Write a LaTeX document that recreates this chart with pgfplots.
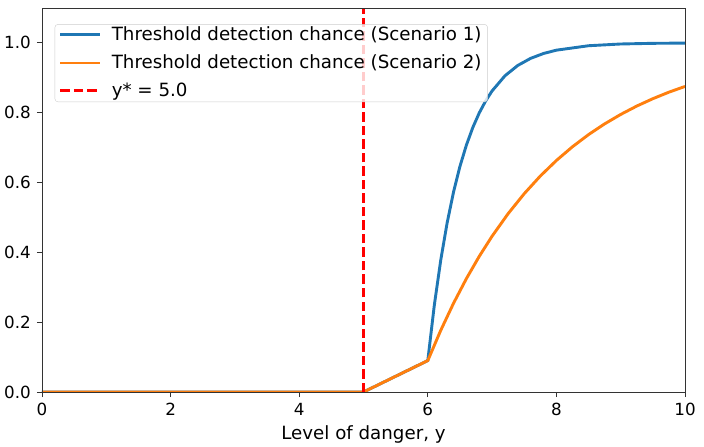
\documentclass[border=0pt]{standalone}
\usepackage{fontspec}
\setmainfont{DejaVu Sans}
\usepackage{pgfplots}
\pgfplotsset{compat=1.18}

\definecolor{mplblue}{HTML}{1F77B4}
\definecolor{mplorange}{HTML}{FF7F0E}
\definecolor{spine}{gray}{0.2}

\begin{document}
\fontsize{18.3}{22}\selectfont
\begin{tikzpicture}
\begin{axis}[
    scale only axis,
    width=643bp, height=384bp,
    xmin=0, xmax=10, ymin=0, ymax=1.1,
    xtick={0,2,4,6,8,10},
    ytick={0,0.2,0.4,0.6,0.8,1.0},
    yticklabel style={/pgf/number format/.cd,fixed,fixed zerofill,precision=1},
    tick label style={font=\fontsize{16.8}{20}\selectfont},
    /pgf/number format/assume math mode=true,
    tick align=outside,
    major tick length=5bp,
    tick style={spine, line width=0.9bp},
    xtick pos=bottom, ytick pos=left,
    axis line style={spine, line width=0.9bp},
    axis on top,
    xlabel={Level of danger, y},
    xlabel style={yshift=3bp},
    legend cell align=left,
    legend style={at={(rel axis cs:0.0151,0.9747)}, anchor=north west,
        xshift=3bp, yshift=-6.5bp,
        draw=black!20, rounded corners=3bp, fill=white, fill opacity=0.8,
        text opacity=1, inner xsep=4bp, inner ysep=0.5bp,
        row sep=7.5bp, column sep=8bp},
    legend image code/.code={\draw[#1] (0bp,0.3bp) -- (40bp,0.3bp);},
]
\addplot[mplblue, line width=2.9bp] coordinates {
(0,0) (5,0) (6,0.09) (6.1,0.2467) (6.2,0.3764) (6.3,0.4838) (6.4,0.5727)
(6.5,0.6463) (6.6,0.7072) (6.7,0.7577) (6.8,0.7994) (6.9,0.8339)
(7.0,0.8625) (7.2,0.9058) (7.4,0.9355) (7.6,0.9558) (7.8,0.9697)
(8.0,0.9792) (8.5,0.9919) (9.0,0.9969) (9.5,0.9988) (10,0.9995)};
\addlegendentry{Threshold detection chance (Scenario 1)}
\addplot[mplorange, line width=2.9bp] coordinates {
(0,0) (5,0) (6,0.09) (6.2,0.1761) (6.4,0.2541) (6.6,0.3247) (6.8,0.3886)
(7.0,0.4464) (7.25,0.5111) (7.5,0.5682) (7.75,0.6187) (8.0,0.6632)
(8.25,0.7026) (8.5,0.7373) (8.75,0.7680) (9.0,0.7951) (9.25,0.8191)
(9.5,0.8402) (9.75,0.8589) (10,0.8753)};
\addlegendentry{Threshold detection chance (Scenario 2)}
\addplot[red, line width=2.9bp, dash pattern=on 9.5bp off 4bp] coordinates {(5,0) (5,1.1)};
\addlegendentry{y* = 5.0}
\end{axis}
\pgfresetboundingbox
\path[use as bounding box] ([shift={(-42bp,-55bp)}]current axis.south west) rectangle ([shift={(19bp,8bp)}]current axis.north east);
\end{tikzpicture}
\end{document}
